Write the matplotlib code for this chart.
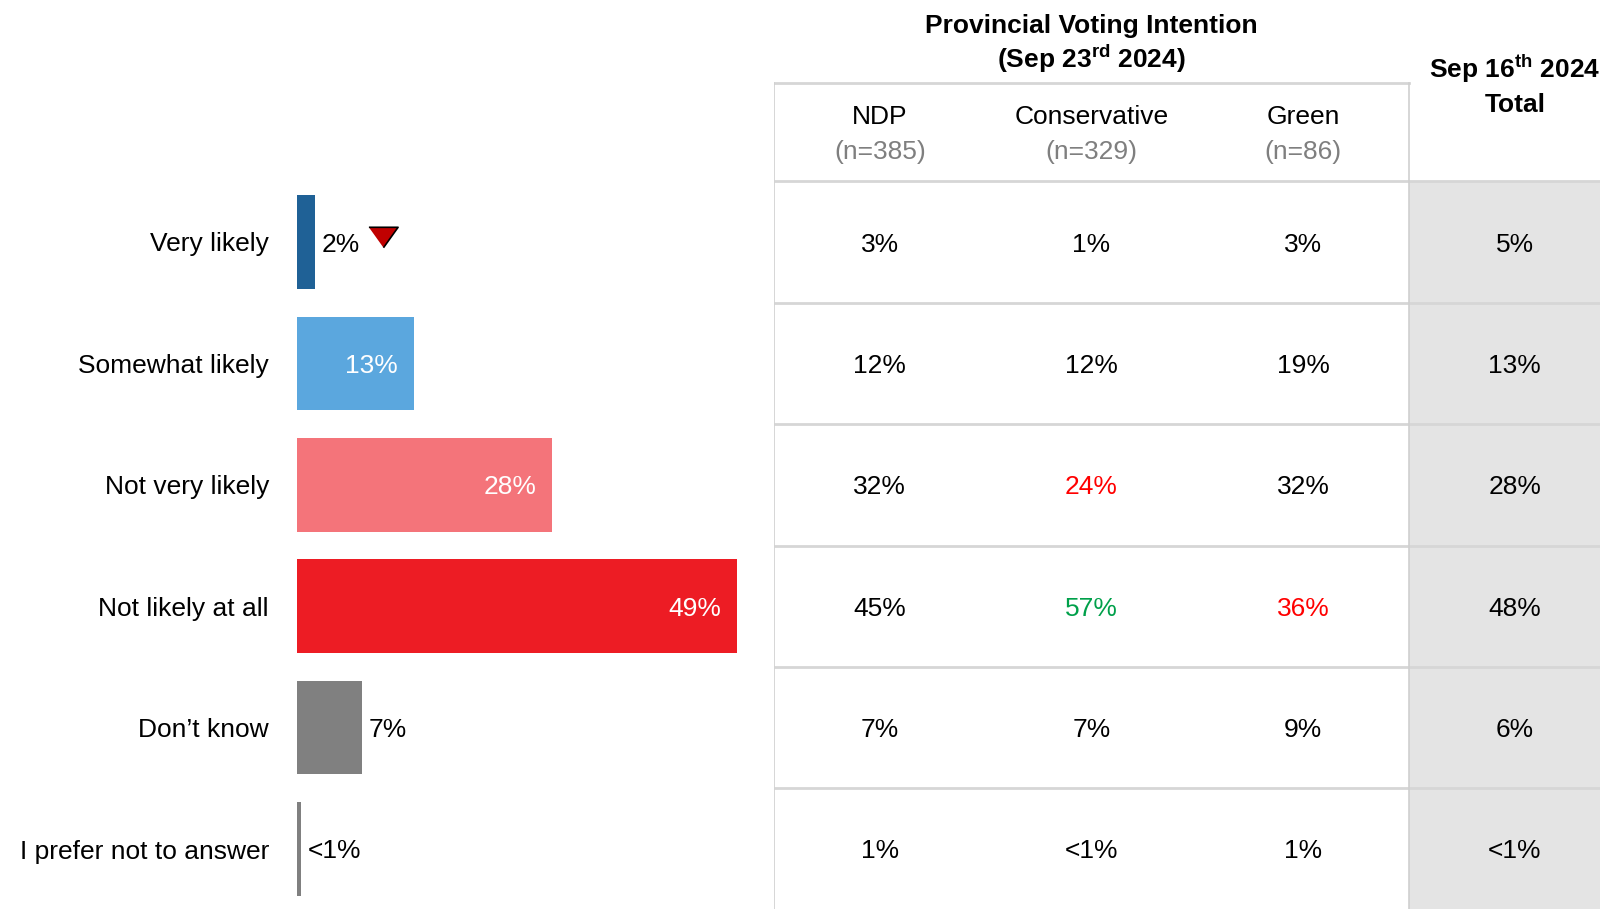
import numpy as np
import matplotlib
matplotlib.use('Agg')
import matplotlib.pyplot as plt
import matplotlib.transforms as mtransforms
from matplotlib.patches import Rectangle

# Data
answers = ['Very likely', 'Somewhat likely', 'Not very likely', 'Not likely at all', 'Don\u2019t know', 'I prefer not to answer']
barValues = [2, 13, 28.4, 49, 7.2, 0.4]
barLabels = ['2%', '13%', '28%', '49%', '7%', '<1%']
barColors = ['#1f6196', '#5ba7de', '#f4747a', '#ed1c24', '#808080', '#808080']
labelInside = [False, True, True, True, False, False]

parties = ['NDP', 'Conservative', 'Green']
partyBases = ['(n=385)', '(n=329)', '(n=86)']
ndpValues = ['3%', '12%', '32%', '45%', '7%', '1%']
conservativeValues = ['1%', '12%', '24%', '57%', '7%', '<1%']
greenValues = ['3%', '19%', '32%', '36%', '9%', '1%']
totalPrevValues = ['5%', '13%', '28%', '48%', '6%', '<1%']
# significance colouring of the table cells (black = none)
conservativeColors = ['black', 'black', '#ff0000', '#00a04a', 'black', 'black']
greenColors = ['black', 'black', 'black', '#ff0000', 'black', 'black']

plt.rcParams['font.family'] = ['Liberation Sans', 'DejaVu Sans']
plt.rcParams['mathtext.fontset'] = 'custom'
plt.rcParams['mathtext.rm'] = 'Liberation Sans'
plt.rcParams['mathtext.bf'] = 'Liberation Sans:bold'

W, H = 1600, 909
fontSize = 19
lineColor = '#d6d6d6'
va = 'center_baseline'

fig = plt.figure(figsize=(W / 100, H / 100), dpi=100)

# row geometry (pixels): first row centre and row pitch
row0 = 242.0
rowStep = 121.4
yTop = (0 - row0) / rowStep
yBottom = (H - row0) / rowStep

# Table axes
tabLeft = 774
colWidth = 211.67
tab = fig.add_axes([tabLeft / W, 0, (W - tabLeft) / W, 1])
tab.set_xlim(0, (W - tabLeft) / colWidth)
tab.set_ylim(yBottom, yTop)
tab.axis('off')

# Bar axes (shares the rows with the table)
barLeft = 297
pxPerPct = 8.98
xMax = 50
ax = fig.add_axes([barLeft / W, 0, xMax * pxPerPct / W, 1], sharey=tab)
ax.set_xlim(0, xMax)
ax.axis('off')

rows = np.arange(len(answers))
ax.barh(rows, barValues, height=0.77, color=barColors)

for i in rows:
  if labelInside[i]:
    off = mtransforms.offset_copy(ax.transData, fig=fig, x=-16, y=0, units='dots')
    ax.text(barValues[i], i, barLabels[i], transform=off, ha='right', va=va,
            color='white', fontsize=fontSize)
  else:
    off = mtransforms.offset_copy(ax.transData, fig=fig, x=7, y=0, units='dots')
    ax.text(barValues[i], i, barLabels[i], transform=off, ha='left', va=va,
            color='black', fontsize=fontSize)
  # row label
  lab = mtransforms.offset_copy(ax.transData, fig=fig, x=-28, y=0, units='dots')
  ax.text(0, i, answers[i], transform=lab, ha='right', va=va, fontsize=fontSize)

# down arrow next to "Very likely"
tri = mtransforms.offset_copy(ax.transData, fig=fig, x=68, y=5, units='dots')
ax.plot([barValues[0]], [0], transform=tri, marker=[(-1, 0.7), (1, 0.7), (0, -0.7)],
        markersize=21, markerfacecolor='#c00000', markeredgecolor='black',
        markeredgewidth=1.2, linestyle='none', clip_on=False)

# Grey column for previous wave
xEnd = (W - tabLeft) / colWidth
tab.add_patch(Rectangle((3, -0.5), xEnd - 3, yBottom + 0.5, color='#e4e4e4', zorder=0, lw=0))

# Grid lines
headTop = (83 - row0) / rowStep
for y in np.arange(-0.5, len(answers) - 0.5, 1.0):
  tab.plot([0, xEnd], [y, y], color=lineColor, lw=2.0, zorder=1, solid_capstyle='butt')
tab.plot([0, 3], [headTop, headTop], color=lineColor, lw=2.0, zorder=1)
for x in [0, 3]:
  tab.plot([x, x], [headTop, yBottom], color='#cfcfcf', lw=1.2, zorder=2)

# Header texts
tab.text(1.5, (24 - row0) / rowStep, 'Provincial Voting Intention', ha='center', va=va,
         fontsize=fontSize, fontweight='bold')
tab.text(1.5, (55 - row0) / rowStep, r'(Sep 23$^{\mathbf{rd}}$ 2024)', ha='center', va=va,
         fontsize=fontSize, fontweight='bold')
tab.text(3.5, (65 - row0) / rowStep, r'Sep 16$^{\mathbf{th}}$ 2024', ha='center', va=va,
         fontsize=fontSize, fontweight='bold')
tab.text(3.5, (102 - row0) / rowStep, 'Total', ha='center', va=va,
         fontsize=fontSize, fontweight='bold')
for j, party in enumerate(parties):
  tab.text(j + 0.5, (115 - row0) / rowStep, party, ha='center', va=va, fontsize=fontSize)
  tab.text(j + 0.5, (150 - row0) / rowStep, partyBases[j], ha='center', va=va,
           fontsize=fontSize, color='#7f7f7f')

# Table values
columns = [ndpValues, conservativeValues, greenValues, totalPrevValues]
colColors = [['black'] * len(answers), conservativeColors, greenColors, ['black'] * len(answers)]
for j, col in enumerate(columns):
  for i, val in enumerate(col):
    tab.text(j + 0.5, i, val, ha='center', va=va, fontsize=fontSize, color=colColors[j][i])

plt.savefig('out.png', dpi=100)
